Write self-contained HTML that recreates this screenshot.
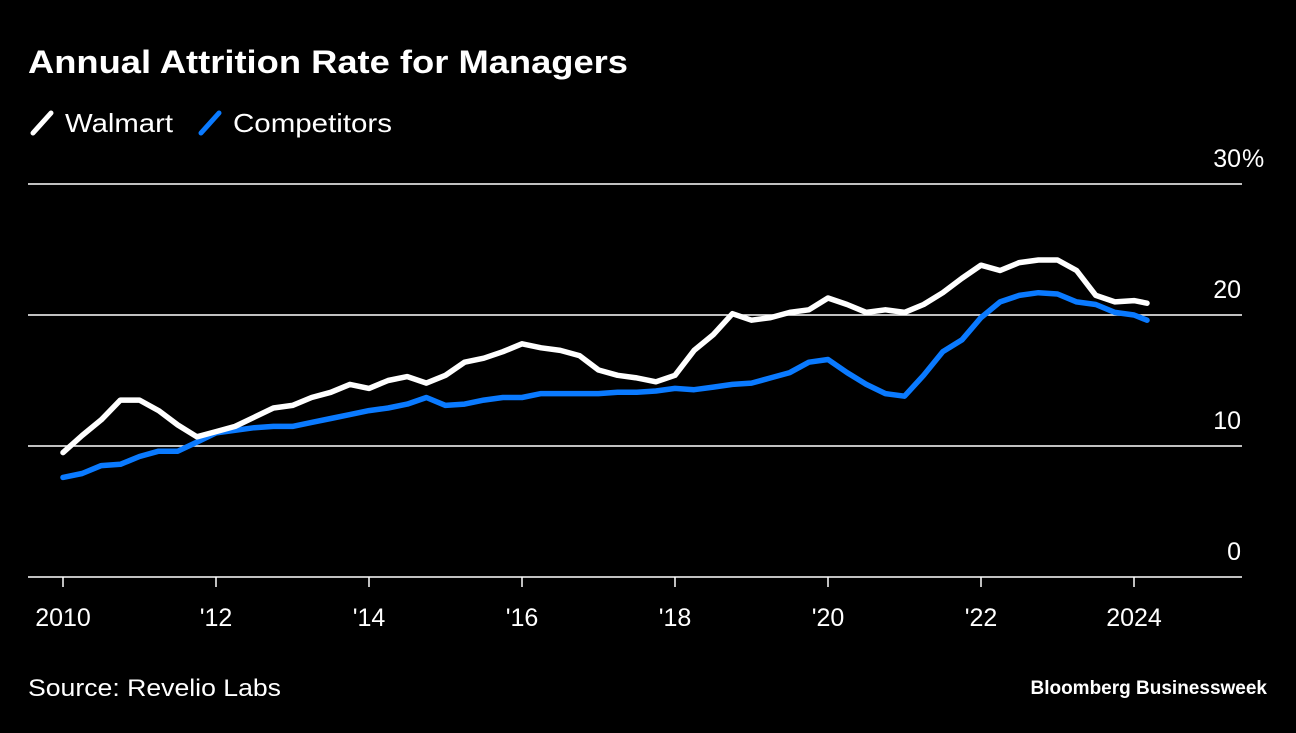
<!DOCTYPE html>
<html><head><meta charset="utf-8"><style>
body{margin:0;background:#000;width:1296px;height:728px;overflow:hidden;font-family:"Liberation Sans",Arial,sans-serif;color:#fff}
</style></head><body>
<svg width="1296" height="728">
<text x="28" y="73" font-size="32" font-weight="bold" fill="#fff" textLength="600" lengthAdjust="spacingAndGlyphs">Annual Attrition Rate for Managers</text>
<g><line x1="33" y1="133" x2="51" y2="113" stroke="#fff" stroke-width="5" stroke-linecap="round"/><text x="65" y="132" font-size="26" fill="#fff" textLength="108" lengthAdjust="spacingAndGlyphs">Walmart</text></g>
<g><line x1="201" y1="133" x2="219" y2="113" stroke="#0a7aff" stroke-width="5" stroke-linecap="round"/><text x="233" y="132" font-size="26" fill="#fff" textLength="159" lengthAdjust="spacingAndGlyphs">Competitors</text></g>
<g id="grid"></g><g id="xax"></g><g id="lines"></g>
<text x="28" y="696" font-size="24" fill="#fff" textLength="253" lengthAdjust="spacingAndGlyphs">Source: Revelio Labs</text>
<text x="1267" y="694" font-size="19" font-weight="bold" fill="#fff" text-anchor="end">Bloomberg Businessweek</text>
</svg>
<script>
const years=[2010,2012,2014,2016,2018,2020,2022,2024];
const yearLabels=["2010","'12","'14","'16","'18","'20","'22","2024"];
const yTicks=[0,10,20,30];
const yTickLabels=["0","10","20","30"];
const walmart=[9.5,10.8,12.0,13.5,13.5,12.7,11.6,10.7,11.1,11.5,12.2,12.9,13.1,13.7,14.1,14.7,14.4,15.0,15.3,14.8,15.4,16.4,16.7,17.2,17.8,17.5,17.3,16.9,15.8,15.4,15.2,14.9,15.4,17.3,18.5,20.1,19.6,19.8,20.2,20.4,21.3,20.8,20.2,20.4,20.2,20.8,21.7,22.8,23.8,23.4,24.0,24.2,24.2,23.4,21.5,21.0,21.1,20.9];
const competitors=[7.6,7.9,8.5,8.6,9.2,9.6,9.6,10.3,11.0,11.2,11.4,11.5,11.5,11.8,12.1,12.4,12.7,12.9,13.2,13.7,13.1,13.2,13.5,13.7,13.7,14.0,14.0,14.0,14.0,14.1,14.1,14.2,14.4,14.3,14.5,14.7,14.8,15.2,15.6,16.4,16.6,15.6,14.7,14.0,13.8,15.4,17.2,18.1,19.8,21.0,21.5,21.7,21.6,21.0,20.8,20.2,20.0,19.6];
const dates=walmart.map((_,i)=>i<57?2010+i*0.25:2024.17);
const X=t=>63+(t-2010)*76.5, Y=v=>577-v*13.1;
const NS="http://www.w3.org/2000/svg";
function mk(tag,attrs,parent){const e=document.createElementNS(NS,tag);for(const k in attrs)e.setAttribute(k,attrs[k]);document.getElementById(parent).appendChild(e);return e;}
yTicks.forEach((v,i)=>{
 if(v>0){const l=mk('line',{x1:28,x2:1242,y1:Y(v),y2:Y(v),stroke:'#fff','stroke-width':1.5},'grid');
 
 }
 const t=mk('text',{x:1241,y:Y(v)-17,'font-size':25,fill:'#fff','text-anchor':'end'},'grid');t.textContent=yTickLabels[i];
 
 
 if(i===yTicks.length-1){const p=mk('text',{x:1242,y:Y(v)-17,'font-size':25,fill:'#fff'},'grid');p.textContent='%';
 
 }
});
const ax=mk('line',{x1:28,x2:1242,y1:577,y2:577,stroke:'#fff','stroke-width':1.5},'xax');


years.forEach((y,i)=>{
 const tk=mk('line',{x1:X(y),x2:X(y),y1:577,y2:587,stroke:'#fff','stroke-width':1.5},'xax');
 
 
 const t=mk('text',{x:X(y),y:626,'font-size':25,fill:'#fff','text-anchor':'middle'},'xax');t.textContent=yearLabels[i];
 
 
});
function line(data,color,name){
 const p=mk('path',{d:data.map((v,i)=>(i?'L':'M')+X(dates[i]).toFixed(1)+','+Y(v).toFixed(1)).join(''),fill:'none',stroke:color,'stroke-width':5.5,'stroke-linejoin':'round','stroke-linecap':'round'},'lines');
 
 
}
line(competitors,'#0a7aff','competitors-line');
line(walmart,'#fff','walmart-line');
</script>
</body></html>
